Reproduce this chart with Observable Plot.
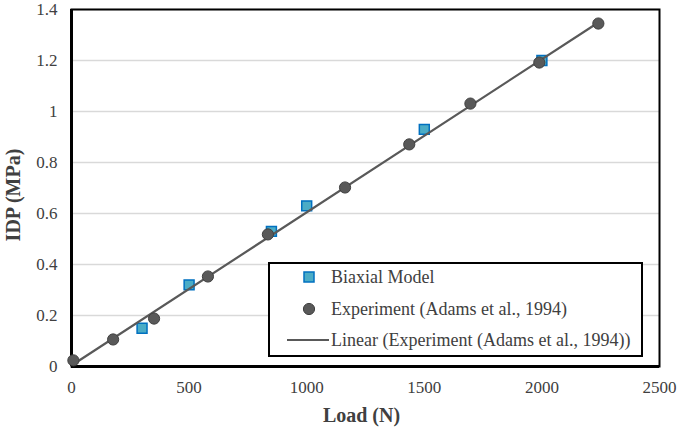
<!DOCTYPE html>
<html>
<head>
<meta charset="utf-8">
<script src="https://cdn.jsdelivr.net/npm/d3@7"></script>
<script src="https://cdn.jsdelivr.net/npm/@observablehq/plot@0.6"></script>
<style>
  html, body { margin: 0; padding: 0; background: #fff; }
  #wrap { position: relative; width: 678px; height: 428px; font-family: "Liberation Serif", "Times New Roman", serif; }
  #legend { position: absolute; left: 268px; top: 262px; width: 371px; height: 91px; border: 2px solid #000; background: #fff; }
  .row { position: absolute; left: 0; height: 24px; display: flex; align-items: center; font-family: "Liberation Serif", "Times New Roman", serif; font-size: 18px; color: #404040; white-space: nowrap; }
  .row svg { display: block; }
</style>
</head>
<body>
<div id="wrap"></div>
<script>
// Data
const biaxialLoad = [300, 500, 850, 1000, 1500, 2000];
const biaxialIDP  = [0.15, 0.32, 0.53, 0.63, 0.93, 1.20];

const expLoad = [8, 177, 351, 580, 835, 1163, 1436, 1696, 1989, 2240];
const expIDP  = [0.024, 0.106, 0.188, 0.353, 0.518, 0.702, 0.871, 1.031, 1.192, 1.345];

const xTicks = [0, 500, 1000, 1500, 2000, 2500];
const yTicks = [0, 0.2, 0.4, 0.6, 0.8, 1.0, 1.2, 1.4];
const yTickLabels = ["0", "0.2", "0.4", "0.6", "0.8", "1", "1.2", "1.4"];

const seriesNames = ["Biaxial Model", "Experiment (Adams et al., 1994)", "Linear (Experiment (Adams et al., 1994))"];

const biaxial = biaxialLoad.map((x, i) => ({x, y: biaxialIDP[i]}));
const experiment = expLoad.map((x, i) => ({x, y: expIDP[i]}));

const font = '"Liberation Serif", "Times New Roman", serif';

const chart = Plot.plot({
  width: 678,
  height: 428,
  marginLeft: 71,
  marginRight: 19,
  marginTop: 9,
  marginBottom: 62,
  style: { fontFamily: font, fontSize: "17px", color: "#404040", background: "#fff" },
  x: { domain: [0, 2500] },
  y: { domain: [0, 1.4] },
  marks: [
    Plot.gridY(yTicks, { stroke: "#d9d9d9", strokeOpacity: 1, strokeWidth: 1.5 }),
    Plot.frame({ stroke: "#000", strokeWidth: 2 }),
    Plot.ruleX([0], { stroke: "#000", strokeWidth: 3 }),
    Plot.ruleY([0], { stroke: "#000", strokeWidth: 3 }),
    Plot.axisX({ ticks: xTicks, tickSize: 0, tickPadding: 14, fontSize: 17, fontFamily: font, fill: "#404040",
                 tickFormat: (d) => String(d), label: null }),
    Plot.axisY({ ticks: yTicks, tickSize: 0, tickPadding: 14, fontSize: 17, fontFamily: font, fill: "#404040",
                 tickFormat: (d) => yTickLabels[yTicks.indexOf(d)] ?? String(d), label: null }),
    Plot.text(["Load (N)"], { frameAnchor: "bottom", dx: -4, dy: 55, fontSize: 20, fontWeight: "bold", fontFamily: font, fill: "#404040" }),
    Plot.text(["IDP (MPa)"], { frameAnchor: "left", textAnchor: "middle", dx: -58, dy: 7, rotate: -90, fontSize: 20, fontWeight: "bold", fontFamily: font, fill: "#404040" }),
    Plot.dot(biaxial, { x: "x", y: "y", symbol: "square", r: 5.6, fill: "#4bacc6", stroke: "#0070c0", strokeWidth: 1.5 }),
    Plot.linearRegressionY(experiment, { x: "x", y: "y", ci: 0, stroke: "#595959", strokeWidth: 2.2 }),
    Plot.dot(experiment, { x: "x", y: "y", r: 5.6, fill: "#595959", stroke: "#404040", strokeWidth: 1 })
  ]
});

const wrap = document.getElementById("wrap");
wrap.appendChild(chart);

// Legend (HTML overlay inside the plot area)
const legend = document.createElement("div");
legend.id = "legend";
const rows = [
  { top: 1, svg: '<svg width="60" height="24"><rect x="34" y="7" width="10" height="10" fill="#4bacc6" stroke="#0070c0" stroke-width="1.5"/></svg>' },
  { top: 33, svg: '<svg width="60" height="24"><circle cx="39" cy="12" r="5.6" fill="#595959" stroke="#404040"/></svg>' },
  { top: 64, svg: '<svg width="60" height="24"><line x1="17" y1="12" x2="59" y2="12" stroke="#595959" stroke-width="2"/></svg>' }
];
rows.forEach((r, i) => {
  const d = document.createElement("div");
  d.className = "row";
  d.style.top = r.top + "px";
  d.innerHTML = r.svg + '<span style="margin-left:1px">' + seriesNames[i] + '</span>';
  legend.appendChild(d);
});
wrap.appendChild(legend);
</script>
</body>
</html>
